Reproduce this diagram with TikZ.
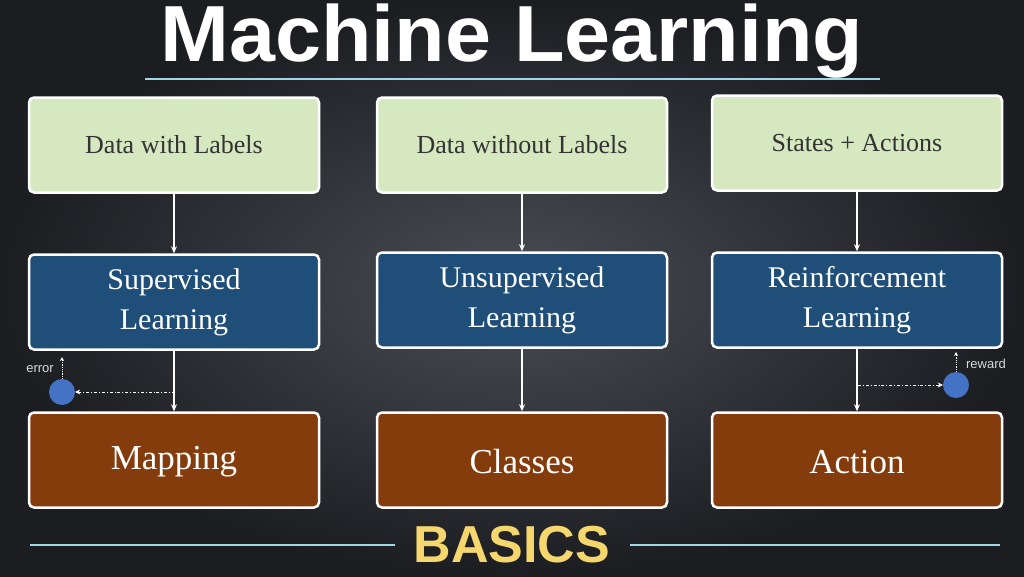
\documentclass[tikz,border=0pt]{standalone}
\usepackage{fontspec}
\setmainfont{Liberation Serif}
\newfontfamily\hsans{Liberation Sans}
\usetikzlibrary{arrows.meta}
\definecolor{bgin}{HTML}{4A4D53}
\definecolor{bgout}{HTML}{1B1D21}
\definecolor{gbox}{HTML}{D5E8C0}
\definecolor{bbox}{HTML}{1F4E79}
\definecolor{rbox}{HTML}{843C0C}
\definecolor{cyanl}{HTML}{9ED8E6}
\definecolor{gold}{HTML}{F5D76E}
\definecolor{dot}{HTML}{4472C4}
\begin{document}
\begin{tikzpicture}[x=1pt,y=-1pt,
  box/.style={draw=white,line width=2.5pt,rounded corners=5pt,minimum width=290pt,minimum height=95pt,inner sep=0pt,align=center},
  gb/.style={box,fill=gbox,text=black!80,font=\fontsize{26}{28}\selectfont},
  bb/.style={box,fill=bbox,text=white,font=\fontsize{30}{40}\selectfont},
  rb/.style={box,fill=rbox,text=white,font=\fontsize{35}{38}\selectfont},
  arr/.style={draw=white,line width=1.2pt,-{Stealth[length=7pt,width=6pt]}},
  dd/.style={draw=white,line width=0.8pt,dash dot,-{Stealth[length=5pt,width=5pt]}},
  dt/.style={draw=white,line width=0.8pt,densely dotted,-{Stealth[length=4pt,width=4pt]}},
  circ/.style={circle,fill=dot,minimum size=26pt,inner sep=0pt},
  lab/.style={text=white!85!black,font=\hsans\fontsize{13}{14}\selectfont}]
\useasboundingbox (0,0) rectangle (1024,576);
\fill[inner color=bgin,outer color=bgout] (0,0) rectangle (1024,576);
\node[text=white,font=\hsans\bfseries\fontsize{78}{80}\selectfont,xscale=1.06,yscale=1.02] (title) at (512,41) {Machine Learning};
\draw[cyanl,line width=1.5pt] (145,79) -- (880,79);
\node[text=gold,font=\hsans\bfseries\fontsize{52}{54}\selectfont] (basics) at (512,545) {BASICS};
\draw[cyanl,line width=1.5pt] (30,545) -- (395,545);
\draw[cyanl,line width=1.5pt] (630,545) -- (1000,545);

\node[gb] (d1) at (174,145) {Data with Labels};
\node[gb] (d2) at (522,145) {Data without Labels};
\node[gb] (d3) at (857,143) {States + Actions};
\node[bb] (s1) at (174,302) {Supervised\\Learning};
\node[bb] (s2) at (522,300) {Unsupervised\\Learning};
\node[bb] (s3) at (857,300) {Reinforcement\\Learning};
\node[rb] (o1) at (174,460) {};
\node[rb] (o2) at (522,460) {};
\node[rb] (o3) at (857,460) {};
\node[text=white,font=\fontsize{35}{38}\selectfont] (t1) at (174,462) {Mapping};
\node[text=white,font=\fontsize{35}{38}\selectfont] (t2) at (522,462) {Classes};
\node[text=white,font=\fontsize{35}{38}\selectfont] (t3) at (857,462) {Action};
\foreach \i in {1,2,3}{
  \draw[arr] (d\i) -- (s\i);
  \draw[arr] (s\i) -- (o\i);
}
\node[circ] (e) at (62,392) {};
\coordinate (ea) at (175,392);
\coordinate (et) at (62,357);
\draw[dd] (ea) -- (e);
\draw[dt] (e) -- (et);
\node[lab] (el) at (40,369) {error};
\node[circ] (r) at (956,385) {};
\coordinate (ra) at (858,385);
\coordinate (rt) at (956,352);
\draw[dd] (ra) -- (r);
\draw[dt] (r) -- (rt);
\node[lab] (rl) at (986,364) {reward};
\end{tikzpicture}
\end{document}
